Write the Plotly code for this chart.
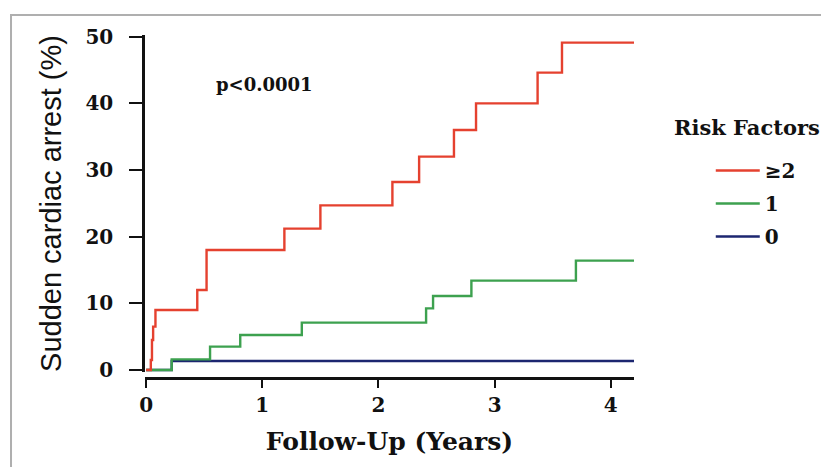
import plotly.graph_objects as go

# ---- data ----
years_ge2 = [0, 0.04, 0.05, 0.06, 0.08, 0.44, 0.52, 1.19, 1.50, 2.12, 2.35, 2.65, 2.84, 3.37, 3.58, 4.2]
sca_ge2 = [0, 1.5, 4.5, 6.5, 9.0, 12.0, 18.0, 21.2, 24.7, 28.2, 32.0, 36.0, 40.0, 44.6, 49.1, 49.1]

years_1 = [0, 0.22, 0.55, 0.81, 1.34, 2.41, 2.47, 2.80, 3.70, 4.2]
sca_1 = [0, 1.6, 3.5, 5.25, 7.1, 9.25, 11.1, 13.4, 16.4, 16.4]

years_0 = [0, 0.22, 4.2]
sca_0 = [0, 1.35, 1.35]

x_ticks = [0, 1, 2, 3, 4]
y_ticks = [0, 10, 20, 30, 40, 50]

series = [
    ("0", years_0, sca_0, "#1C2670", 3),
    ("1", years_1, sca_1, "#3DA14F", 2),
    ("\u22652", years_ge2, sca_ge2, "#E5412F", 1),
]

SERIF = "DejaVu Serif"
fig = go.Figure()
for name, xs, ys, color, rank in series:
    fig.add_trace(go.Scatter(
        x=xs, y=ys, mode="lines", name=name, line_shape="hv",
        line=dict(color=color, width=2.4), legendrank=rank, legendgroup=name,
    ))

# the page body adds an 8px offset, so the figure is 8px smaller than the window
fig.update_layout(
    width=821, height=459,
    margin=dict(l=137, r=195, t=27, b=89, autoexpand=False),
    paper_bgcolor="white", plot_bgcolor="white",
    showlegend=True,
    legend=dict(
        x=1.157, y=0.662, xanchor="left", yanchor="top",
        font=dict(family=SERIF, size=20, color="#111", weight="bold"),
        itemwidth=44, tracegroupgap=4, bgcolor="rgba(0,0,0,0)",
    ),
    xaxis=dict(
        range=[-0.01, 4.2], tickvals=x_ticks, anchor="free", position=0,
        showline=True, linecolor="#111", linewidth=2.5,
        ticks="outside", ticklen=8, tickwidth=2, tickcolor="#111",
        tickfont=dict(family=SERIF, size=20, color="#111", weight="bold"),
        showgrid=False, zeroline=False,
        title=dict(text="Follow-Up (Years)", standoff=16,
                   font=dict(family=SERIF, size=25, color="#111", weight="bold")),
    ),
    yaxis=dict(
        range=[-0.3, 50.25], domain=[0.0175, 1], tickvals=y_ticks,
        showline=True, linecolor="#111", linewidth=2.5,
        ticks="outside", ticklen=13, tickwidth=2, tickcolor="#111",
        tickfont=dict(family=SERIF, size=20, color="#111", weight="bold"),
        ticklabelstandoff=12,
        showgrid=False, zeroline=False,
        title=dict(text="Sudden cardiac arrest (%)", standoff=16,
                   font=dict(family="Liberation Sans", size=29, color="#111")),
    ),
    annotations=[
        dict(text="p<0.0001", x=1.02, y=42.8, xref="x", yref="y", showarrow=False,
             font=dict(family=SERIF, size=18, color="#111", weight="bold")),
        dict(text="Risk Factors", x=1.078, y=0.729, xref="paper", yref="paper",
             xanchor="left", yanchor="middle", showarrow=False,
             font=dict(family=SERIF, size=21, color="#111", weight="bold")),
    ],
    shapes=[
        dict(type="rect", xref="paper", yref="paper", x0=-0.274, x1=1.6, y0=-0.6, y1=1.0583,
             line=dict(color="#AFAFAF", width=2), fillcolor="rgba(0,0,0,0)", layer="below"),
    ],
)

fig.write_html("out.html")
